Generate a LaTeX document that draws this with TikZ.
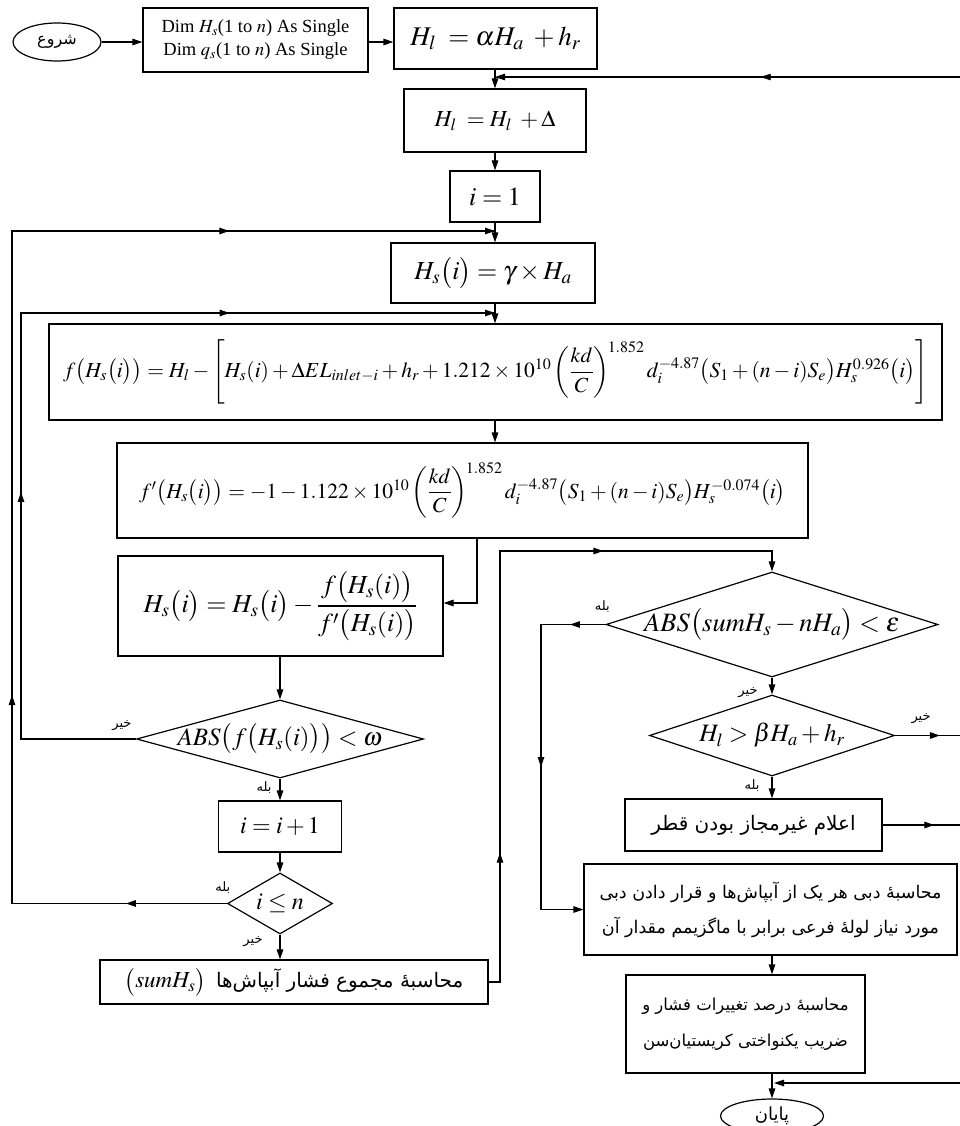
\documentclass[tikz,border=0pt]{standalone}
\usepackage{amsmath}
\usepackage{mathptmx}
\usepackage[no-math]{fontspec}
\setmainfont{Liberation Serif}
\newfontfamily\fa[Script=Arabic]{DejaVu Sans}
\TeXXeTstate=1
\usetikzlibrary{shapes.geometric,arrows.meta,decorations.markings,calc}
\newcommand{\fsz}[2]{\fontsize{#1}{#2}\selectfont}
\newcommand{\RL}[1]{\beginR#1\endR}
\begin{document}
\begin{tikzpicture}[x=1pt,y=-1pt,
  box/.style={draw, line width=1.2pt, inner sep=0pt, align=center},
  diam/.style={diamond, draw, line width=1.2pt, inner sep=0pt},
  oval/.style={ellipse, draw, line width=1.2pt, inner sep=0pt},
  conn/.style={line width=1.2pt},
  arr/.style={line width=1.2pt, -{Triangle[length=10pt,width=6.5pt]}},
  marr/.style={postaction={decorate}, decoration={markings, mark=at position #1 with {\arrow{Triangle[length=10pt,width=6.5pt]}}}},
  lab/.style={inner sep=0pt, font=\fa\fsz{13}{15}},
]
\fill[white] (0,0) rectangle (959,1126);
\useasboundingbox (0,0) rectangle (959,1126);

% nodes
\node[oval, minimum width=88pt, minimum height=38pt, font=\fa\fsz{16}{18}] (start) at (57,42) {\RL{شروع}};
\node[box, minimum width=225pt, minimum height=64pt, font=\fsz{18.5}{23}] (dim) at (255.5,40) {Dim $H_s$(1 to $n$) As Single\\Dim $q_s$(1 to $n$) As Single};
\node[box, minimum width=203pt, minimum height=61pt, font=\fsz{27}{30}] (hl1) at (495.5,38.5) {$H_l\; = \alpha H_a\; + h_r$};
\node[box, minimum width=182pt, minimum height=63pt, font=\fsz{23}{28}] (hl2) at (495,120.5) {$H_l\; = H_l\; + \Delta$};
\node[box, minimum width=90pt, minimum height=51pt, font=\fsz{26}{30}] (i1) at (495,196.5) {$i = 1$};
\node[box, minimum width=204pt, minimum height=60pt, font=\fsz{26}{30}] (hs1) at (493,273) {$H_s\bigl(i\bigr) = \gamma\times H_a$};
\node[box, minimum width=893pt, minimum height=96pt, font=\fsz{21.5}{24}] (f) at (495.5,372) {$f\bigl(H_s\bigl(i\bigr)\bigr) = H_l - \left[ H_s(i) + \Delta EL_{inlet-i} + h_r + 1.212\times 10^{10}\left(\dfrac{kd}{C}\right)^{\!1.852} d_i^{-4.87}\bigl(S_1 + (n-i)S_e\bigr)H_s^{0.926}\bigl(i\bigr)\right]$};
\node[box, minimum width=691pt, minimum height=95pt, font=\fsz{21.5}{24}] (fp) at (462.5,490.5) {$f'\bigl(H_s\bigl(i\bigr)\bigr) = -1 - 1.122\times 10^{10}\left(\dfrac{kd}{C}\right)^{\!1.852} d_i^{-4.87}\bigl(S_1 + (n-i)S_e\bigr)H_s^{-0.074}\bigl(i\bigr)$};
\node[box, minimum width=325pt, minimum height=100pt, font=\fsz{26}{30}] (hsu) at (280.5,606) {$H_s\bigl(i\bigr) = H_s\bigl(i\bigr) - \dfrac{f\bigl(H_s(i)\bigr)}{f'\bigl(H_s(i)\bigr)}$};
\node[diam, minimum width=287pt, minimum height=78pt, label={[font=\fsz{25}{28}]center:$ABS\bigl(f\bigl(H_s(i)\bigr)\bigr) < \omega$}] (dw) at (280,739) {};
\node[box, minimum width=123pt, minimum height=51pt, font=\fsz{24}{28}] (ii) at (280,826.5) {$i = i + 1$};
\node[diam, minimum width=105pt, minimum height=61pt, label={[font=\fsz{24}{28}]center:$i \le n$}] (dn) at (280,903.5) {};
\node[box, minimum width=388pt, minimum height=44pt] (sum) at (294,982) {{\fsz{23}{28}$\bigl(sumH_s\bigr)$}\hspace{10pt}{\fa\fsz{20}{22}\RL{محاسبه^^^^0654 مجموع فشار آبپاش^^^^200cها}}};
\node[diam, minimum width=332pt, minimum height=105pt, label={[font=\fsz{26.5}{30}]center:$ABS\bigl(sumH_s - nH_a\bigr) < \varepsilon$}] (dE) at (772,624.5) {};
\node[diam, minimum width=245pt, minimum height=81pt, label={[font=\fsz{25}{28}]center:$H_l > \beta H_a + h_r$}] (dB) at (772,735.5) {};
\node[box, minimum width=257pt, minimum height=52pt, font=\fa\fsz{20}{22}] (alam) at (753.5,825) {\RL{اعلام غیرمجاز بودن قطر}};
\node[box, minimum width=373pt, minimum height=91pt, font=\fa\fsz{17.5}{35}] (big) at (770.5,909.5) {\RL{محاسبه^^^^0654 دبی هر یک از آبپاش^^^^200cها و قرار دادن دبی}\\\RL{مورد نیاز لوله^^^^0654 فرعی برابر با ماگزیمم مقدار آن}};
\node[box, minimum width=239pt, minimum height=98pt, font=\fa\fsz{16.5}{36}] (dp) at (745.5,1024) {\RL{محاسبه^^^^0654 درصد تغییرات فشار و}\\\RL{ضریب یکنواختی کریستیان^^^^200cسن}};
\node[oval, minimum width=103pt, minimum height=34pt, font=\fa\fsz{18}{20}] (end) at (772,1116) {\RL{پایان}};

% labels
\node[lab] (nw) at ($(dw.west)+(-14,-13)$) {\RL{خیر}};
\node[lab] (yw) at ($(dw.south)+(-16,9)$) {\RL{بله}};
\node[lab] (yn) at ($(dn.west)+(-4,-16)$) {\RL{بله}};
\node[lab] (nn) at ($(dn.south)+(-27,7)$) {\RL{خیر}};
\node[lab] (yE) at ($(dE.west)+(-3,-18)$) {\RL{بله}};
\node[lab] (nE) at ($(dE.south)+(-24,15)$) {\RL{خیر}};
\node[lab] (nB) at ($(dB.east)+(26,-17)$) {\RL{خیر}};
\node[lab] (yB) at ($(dB.south)+(-20,9)$) {\RL{بله}};

% coordinates
\coordinate (cx) at (495,0);
\coordinate (r1) at (961,77);
\coordinate (rE) at (961,1083);
\coordinate (ej) at (774,1083);
\coordinate (lx) at (12,231);
\coordinate (lw) at (21,313);
\coordinate (up1) at (477,603);
\coordinate (bx) at (500,551);
\coordinate (ex) at (541,625);

% main column
\draw[arr] (start.east) -- (start.east -| dim.west);
\draw[arr] (dim.east |- start.east) -- (start.east -| hl1.west);
\draw[arr] (hl1.south -| cx) -- (hl2.north -| cx);
\draw[arr] (r1) -- (r1 -| cx);
\draw[marr=0.43] (r1) -- (r1 -| cx);
\draw[arr] (hl2.south -| cx) -- (i1.north -| cx);
\draw[arr] (i1.south -| cx) -- (hs1.north -| cx);
\draw[arr] (hs1.south -| cx) -- (f.north -| cx);
\draw[arr] (f.south -| cx) -- (fp.north -| cx);
\draw[arr] (fp.south -| up1) -- (up1) -- (up1 -| hsu.east);
\draw[arr] (hsu.south -| dw) -- (dw.north);
\draw[arr] (dw.south) -- (ii.north);
\draw[arr] (ii.south) -- (dn.north);
\draw[arr] (dn.south) -- (dn.south |- sum.north);

% left loops
\draw[arr] (dn.west) -- (dn.west -| lx) -- (lx) -- (lx -| cx);
\draw[conn, marr=0.47] (dn.west) -- (dn.west -| lx);
\draw[conn, marr=0.31] (dn.west -| lx) -- (lx);
\draw[conn, marr=0.45] (lx) -- (lx -| cx);
\draw[arr] (dw.west) -- (dw.west -| lw) -- (lw) -- (lw -| cx);
\draw[conn, marr=0.58] (dw.west -| lw) -- (lw);
\draw[conn, marr=0.44] (lw) -- (lw -| cx);

% right part
\draw[arr] (sum.east) -- (sum.east -| bx) -- (bx) -- (bx -| dE) -- (dE.north);
\draw[conn, marr=0.3] (sum.east -| bx) -- (bx);
\draw[conn, marr=0.38] (bx) -- (bx -| dE);
\draw[arr] (dE.south) -- (dB.north);
\draw[arr] (dB.south) -- (dB.south |- alam.north);
\draw[conn] (dB.east) -- (dB.east -| r1) -- (r1);
\draw[conn, marr=0.68] (dB.east) -- (dB.east -| r1);
\draw[arr] (alam.east) -- (alam.east -| r1) -- (rE) -- (ej);
\draw[conn, marr=0.66] (alam.east) -- (alam.east -| r1);
\draw[arr] (dE.west) -- (dE.west -| ex) -- (big.west -| ex) -- (big.west);
\draw[conn, marr=0.55] (dE.west) -- (dE.west -| ex);
\draw[conn, marr=0.5] (dE.west -| ex) -- (big.west -| ex);
\draw[arr] (big.south -| dE) -- (dp.north -| dE);
\draw[arr] (dp.south -| dE) -- (end.north);
\end{tikzpicture}
\end{document}
